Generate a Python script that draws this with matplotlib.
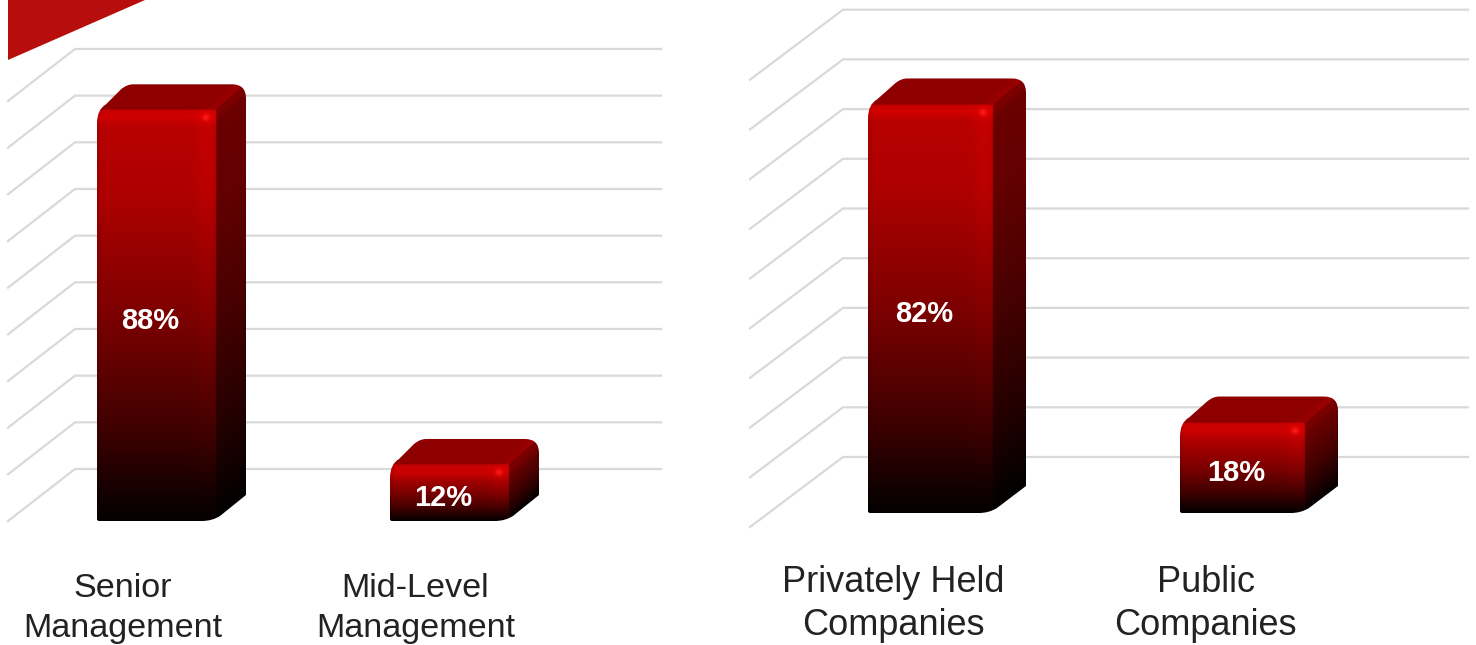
import numpy as np
import matplotlib
matplotlib.use("Agg")
import matplotlib.pyplot as plt
from matplotlib.path import Path
from matplotlib.patches import Polygon

plt.rcParams['font.family'] = ['Liberation Sans', 'DejaVu Sans']

W, H = 1476, 645

left_labels = ["Senior\nManagement", "Mid-Level\nManagement"]
left_values = [88, 12]
right_labels = ["Privately Held\nCompanies", "Public\nCompanies"]
right_values = [82, 18]
grid_values = [0, 10, 20, 30, 40, 50, 60, 70, 80, 90]

# colour ramp of the front face, bottom to top
ramp_t = [0.0, 0.06, 0.2, 0.5, 0.8, 1.0]
ramp_r = [4, 18, 58, 125, 175, 186]


def red(t):
    return np.interp(t, ramp_t, ramp_r)


def bar_image(w, h, dx, dy):
    # pixel-wise shading of a bevelled box, u to the right and v upwards from the front corner
    ss = 2
    nu = int(w + dx) * ss
    nv = int(h + dy) * ss
    u = (np.arange(nu) + 0.5) / ss
    v = (np.arange(nv) + 0.5) / ss
    u, v = np.meshgrid(u, v)

    front = red(np.clip(v / h, 0, 1))
    # brighter strip down the right of the front face
    front = front * (1 + 0.07 * np.exp(-((u - (w - 9)) / 10.0) ** 2))
    # bevel along the top edge
    front = front + np.exp(-((v - (h - 7)) / 7.0) ** 2) * 22
    # soft dark rim on the left
    front = front * (1 - 0.12 * np.exp(-(u / 3.0) ** 2))

    slope = dy / dx
    base = v - (u - w) * slope
    side = red(np.clip(base / h, 0, 1)) * 0.58

    # top face, a little lighter along the edge shared with the side
    top = np.full_like(u, 142.0)
    top = top + 14 * np.exp(-((u - w - (v - h) / slope) / 10.0) ** 2)
    side = side + np.exp(-((base - h + 5) / 6.0) ** 2) * 18 * np.clip(base / h, 0, 1)

    r = np.where(u <= w, np.where(v <= h, front, top), np.where(base <= h, side, top))
    g = np.zeros_like(r)
    b = np.zeros_like(r)

    # specular spot on the front corner
    spot = np.exp(-(((u - (w - 10)) ** 2 + (v - (h - 8)) ** 2) / 12.0))
    r = r + spot * 40
    g = g + spot * 26
    b = b + spot * 26

    return np.clip(np.dstack([r, g, b]), 0, 255).astype(np.uint8)


def bar_outline(w, h, dx, dy):
    rad = 14
    verts = [
        (2, 0),
        (w - 14, 0), (w - 4, 0), (w + 4, 5),
        (w + dx, dy),
        (w + dx, h + dy - rad), (w + dx, h + dy), (w + dx - rad, h + dy),
        (dx + 6, h + dy), (dx, h + dy), (dx - 6, h + dy - 5),
        (9, h + 6), (0, h + 1), (0, h - 13),
        (0, 2), (0, 0), (2, 0),
    ]
    codes = [
        Path.MOVETO,
        Path.LINETO, Path.CURVE3, Path.CURVE3,
        Path.LINETO,
        Path.LINETO, Path.CURVE3, Path.CURVE3,
        Path.LINETO, Path.CURVE3, Path.CURVE3,
        Path.LINETO, Path.CURVE3, Path.CURVE3,
        Path.LINETO, Path.CURVE3, Path.CURVE3,
    ]
    return np.array(verts, float), codes


def draw_panel(fig, labels, values, x0, x1, first, step, base, scale, bar_w, bar_dx, bar_dy,
               wall_dx, wall_dy, lift, label_dx, text_top, text_size, spacing):
    ax = fig.add_axes([x0 / W, 1 - base / H, (x1 - x0) / W, 100 * scale / H])
    ux = 1.0 / step
    uy = 1.0 / scale
    xa, xb = (x0 - first) * ux, (x1 - first) * ux
    ax.axis("off")

    # back wall gridlines and their run along the side wall
    xw = xa + wall_dx * ux
    for g in grid_values:
        gy = g + lift * uy
        ax.plot([xa, xw, xb], [gy - wall_dy * uy, gy, gy], color="#d9d9d9", lw=1.6,
                solid_joinstyle="miter", zorder=1, clip_on=False)

    for i, val in enumerate(values):
        h = val / uy
        left = i - bar_w / 2 * ux
        img = bar_image(bar_w, h, bar_dx, bar_dy)
        extent = [left, left + (bar_w + bar_dx) * ux, 0, val + bar_dy * uy]
        im = ax.imshow(img, origin="lower", extent=extent, aspect="auto", zorder=2,
                       interpolation="bilinear")
        verts, codes = bar_outline(bar_w, h, bar_dx, bar_dy)
        verts[:, 0] = left + verts[:, 0] * ux
        verts[:, 1] = verts[:, 1] * uy
        im.set_clip_path(Path(verts, codes), ax.transData)

        ax.text(i - 6 * ux, val / 2 - 5 * uy, f"{val}%", color="white", fontsize=21,
                fontweight="bold", ha="center", va="center", zorder=3)
        ax.text(i + label_dx * ux, -text_top * uy, labels[i], color="#222222", fontsize=text_size,
                ha="center", va="top", linespacing=spacing, zorder=3, clip_on=False)

    ax.set_xlim(xa, xb)
    ax.set_ylim(0, 100)
    return ax


fig = plt.figure(figsize=(W / 100, H / 100), dpi=100, facecolor="white")

draw_panel(fig, left_labels, left_values, 8, 661, 156.5, 293, 521, 4.667, 119, 30, 26,
           67, 52, 52, -34, 52, 24.6, 1.38)
draw_panel(fig, right_labels, right_values, 750, 1468, 930.5, 312, 513, 4.97, 125, 33, 27,
           93, 70, 56, -37, 52, 26, 1.28)

# corner accent
fig.add_artist(Polygon([(8 / W, 1), (145 / W, 1), (8 / W, 1 - 60 / H)], closed=True,
                       transform=fig.transFigure, facecolor="#b80d0d", edgecolor="none"))

fig.savefig("out.png", dpi=100)
